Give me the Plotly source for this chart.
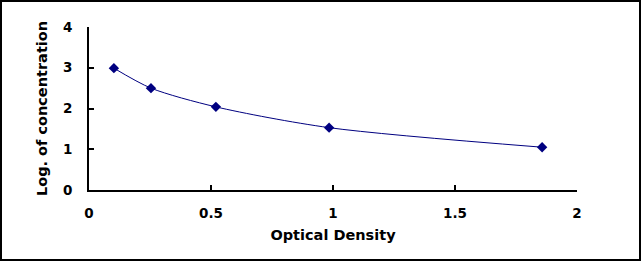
import plotly.graph_objects as go

od = [0.102, 0.254, 0.52, 0.984, 1.857]
log_conc = [2.99, 2.50, 2.04, 1.53, 1.05]
x_ticks = [0, 0.5, 1, 1.5, 2]
x_tick_text = ["0", "0.5", "1", "1.5", "2"]
y_ticks = [0, 1, 2, 3, 4]
y_tick_text = ["0", "1", "2", "3", "4"]

FONT = "DejaVu Sans"
NAVY = "#000080"

fig = go.Figure()
fig.add_trace(go.Scatter(
    x=od, y=log_conc, mode="lines+markers",
    line=dict(color=NAVY, width=1, shape="spline", smoothing=0.8),
    marker=dict(symbol="diamond", size=8, color=NAVY),
    showlegend=False, cliponaxis=False,
))

L, R, T, B = 89, 65, 27, 72
W, H = 642, 262

fig.update_layout(
    width=W, height=H,
    margin=dict(l=L, r=R, t=T, b=B, pad=0),
    paper_bgcolor="white", plot_bgcolor="white",
    font=dict(family=FONT, size=13, color="black"),
    xaxis=dict(
        range=[0, 2], tickvals=x_ticks, ticktext=["<b>%s</b>" % t for t in x_tick_text],
        showgrid=False, zeroline=False,
        showline=True, linecolor="black", linewidth=2,
        ticks="inside", ticklen=5, tickwidth=2, tickcolor="black",
        tickfont=dict(family=FONT, size=13.5, color="black"),
        ticklabelstandoff=10,
        title=dict(text="<b>Optical Density</b>", font=dict(family=FONT, size=14.5), standoff=10),
    ),
    yaxis=dict(
        range=[0, 4], tickvals=y_ticks, ticktext=["<b>%s</b>" % t for t in y_tick_text],
        showgrid=False, zeroline=False,
        showline=True, linecolor="black", linewidth=2,
        ticks="inside", ticklen=5, tickwidth=2, tickcolor="black",
        tickfont=dict(family=FONT, size=13.5, color="black"),
        ticklabelstandoff=12,
        title=dict(text="<b>Log. of concentration</b>", font=dict(family=FONT, size=14.5), standoff=12),
    ),
    shapes=[dict(
        type="rect", xref="paper", yref="paper",
        xsizemode="pixel", ysizemode="pixel", xanchor=0, yanchor=0,
        x0=1 - L, x1=(W - 2) - L, y0=-(H - 2 - (H - B)), y1=(H - B) - 1,
        line=dict(color="black", width=2), fillcolor="rgba(0,0,0,0)", layer="above",
    )],
)

fig.write_html("out.html")
